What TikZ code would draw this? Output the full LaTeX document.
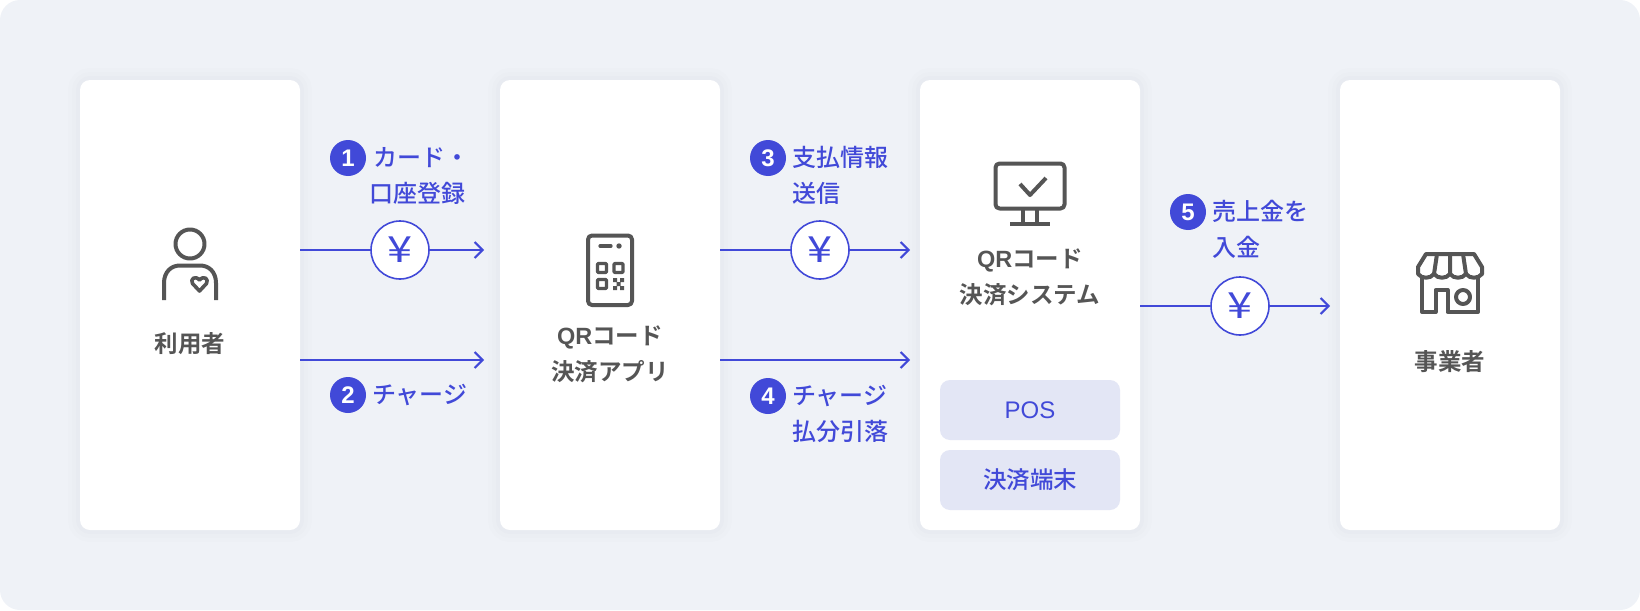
\documentclass[tikz,border=0pt]{standalone}
\usepackage{graphicx}
\usepackage{fontspec}
\setmainfont{Noto Sans CJK JP}
\newfontfamily\medfont{Noto Sans CJK JP Medium}
\newfontfamily\boldfont{Noto Sans CJK JP Bold}
\newfontfamily\latfont[BoldFont={Liberation Sans Bold}]{Liberation Sans}
\usetikzlibrary{arrows.meta}
\definecolor{bgc}{HTML}{EFF2F7}
\definecolor{bluec}{HTML}{4149D8}
\definecolor{grayc}{HTML}{555555}
\definecolor{boxc}{HTML}{E3E6F5}
\tikzset{
  x=1pt,y=-1pt,
  card/.style={minimum width=220pt,minimum height=450pt,inner sep=0pt,fill=white,rounded corners=10pt,
    preaction={draw=black!60!blue,line width=24pt,opacity=.006},
    preaction={draw=black!60!blue,line width=16pt,opacity=.008},
    preaction={draw=black!60!blue,line width=8pt,opacity=.01}},
  inbox/.style={minimum width=180pt,minimum height=60pt,inner sep=0pt,fill=boxc,rounded corners=10pt,text=bluec,font=\medfont\fontsize{23.5}{23.5}\selectfont},
  title/.style={inner sep=0pt,text=grayc,align=center,font=\boldfont\fontsize{23.5}{36}\selectfont},
  lab/.style={inner sep=0pt,text=bluec,align=left,anchor=west,font=\medfont\fontsize{24}{36}\selectfont},
  badge/.style={circle,fill=bluec,minimum size=36pt,inner sep=0pt,text=white,font=\latfont\bfseries\fontsize{24}{24}\selectfont},
  yen/.style={circle,draw=bluec,line width=1.6pt,fill=white,minimum size=58pt,inner sep=0pt,text=bluec,font=\fontsize{36}{36}\selectfont},
  flow/.style={draw=bluec,line width=2pt},
  flowa/.style={flow,-{Straight Barb[length=8pt,width=16pt,line width=2pt]}},
  icon/.style={draw=grayc,line width=4pt,line join=round}
}
\begin{document}
\begin{tikzpicture}
\useasboundingbox (0,0) rectangle (1640,610);
\fill[bgc] (0,0) [rounded corners=20pt] rectangle (1640,610);
% cards
\node[card] (c1) at (190,305) {};
\node[card] (c2) at (610,305) {};
\node[card] (c3) at (1030,305) {};
\node[card] (c4) at (1450,305) {};
\node[inbox] (pos) at (1030,410) {{\latfont\fontsize{24}{24}\selectfont POS}};
\node[inbox] (term) at (1030,480) {決済端末};
% titles
\node[title] (t1) at (190,344) {利用者};
\node[title] (t2) at (610,354) {{\latfont\bfseries QR}コード\\決済アプリ};
\node[title] (t3) at (1030,277.5) {{\latfont\bfseries QR}コード\\決済システム};
\node[title] (t4) at (1450,362) {事業者};
% yen circles
\node[yen] (y1) at (400,250) {\scalebox{1.25}[1]{¥}};
\node[yen] (y3) at (820,250) {\scalebox{1.25}[1]{¥}};
\node[yen] (y5) at (1240,306) {\scalebox{1.25}[1]{¥}};
% free arrow ends
\coordinate (e1) at (484,250);
\coordinate (e2) at (484,360);
\coordinate (e3) at (910,250);
\coordinate (e4) at (910,360);
\coordinate (e5) at (1330,306);
% connectors
\draw[flow] (c1.east |- y1) -- (y1);
\draw[flowa] (y1) -- (e1);
\draw[flowa] (c1.east |- e2) -- (e2);
\draw[flow] (c2.east |- y3) -- (y3);
\draw[flowa] (y3) -- (e3);
\draw[flowa] (c2.east |- e4) -- (e4);
\draw[flow] (c3.east |- y5) -- (y5);
\draw[flowa] (y5) -- (e5);
% labels
\node[badge] (b1) at (348,158) {1};
\node[lab] (l1) at (369,175.5) {\,カード・\\口座登録};
\node[badge] (b2) at (348,395) {2};
\node[lab] (l2) at (372,395) {チャージ};
\node[badge] (b3) at (768,158) {3};
\node[lab] (l3) at (792,175.5) {支払情報\\送信};
\node[badge] (b4) at (768,396) {4};
\node[lab] (l4) at (792,413.5) {チャージ\\払分引落};
\node[badge] (b5) at (1188,212) {5};
\node[lab] (l5) at (1212,229.5) {売上金を\\入金};
% person icon
\draw[icon] (190,244) circle (14.5);
\draw[icon] (164,300) -- (164,283) .. controls (164,272) and (171,265.5) .. (180,265.5) -- (200,265.5) .. controls (209,265.5) and (216,272) .. (216,283) -- (216,300);
\draw[icon,line width=3.6pt] (199.5,291) -- (192.5,283.5) .. controls (190,279) and (195,275) .. (199.5,280) .. controls (204,275) and (209,279) .. (206.5,283.5) -- cycle;
% phone icon
\draw[icon,rounded corners=4pt] (588,235.5) rectangle (632,305);
\draw[icon,line cap=round,line width=3.2pt] (600,246) -- (611,246);
\fill[grayc] (619,246) circle (2.7);
\draw[icon,line width=3.4pt,rounded corners=1pt] (597.5,263.5) rectangle (606.5,272.5);
\draw[icon,line width=3.4pt,rounded corners=1pt] (614,263.5) rectangle (623,272.5);
\draw[icon,line width=3.4pt,rounded corners=1pt] (597.5,279.5) rectangle (606.5,288.5);
\fill[grayc] (613,278) rectangle (617,282) (620,278) rectangle (624,282) (616.5,282) rectangle (620.5,286) (613,286) rectangle (617,290) (620,286) rectangle (624,290);
% monitor icon
\draw[icon,rounded corners=4pt] (995.5,163.5) rectangle (1064.5,208.5);
\draw[icon] (1020,184) -- (1030,195) -- (1046,178);
\draw[icon] (1023,209) -- (1023,224) (1037,209) -- (1037,224);
\draw[icon] (1010,224) -- (1050,224);
% store icon
\draw[icon] (1426,254) -- (1474,254) -- (1482,267) -- (1482,274) .. controls (1478,279) and (1470,279) .. (1466,274) .. controls (1462,279) and (1454,279) .. (1450,274) .. controls (1446,279) and (1438,279) .. (1434,274) .. controls (1430,279) and (1422,279) .. (1418,274) -- (1418,267) -- cycle;
\draw[icon] (1437,254) -- (1434,274) (1450,254) -- (1450,274) (1463,254) -- (1466,274);
\draw[icon] (1422,278) -- (1422,312) -- (1435.5,312) -- (1435.5,290) -- (1447.5,290) -- (1447.5,312) -- (1478,312) -- (1478,278);
\draw[icon] (1463,297) circle (7);
\end{tikzpicture}
\end{document}
